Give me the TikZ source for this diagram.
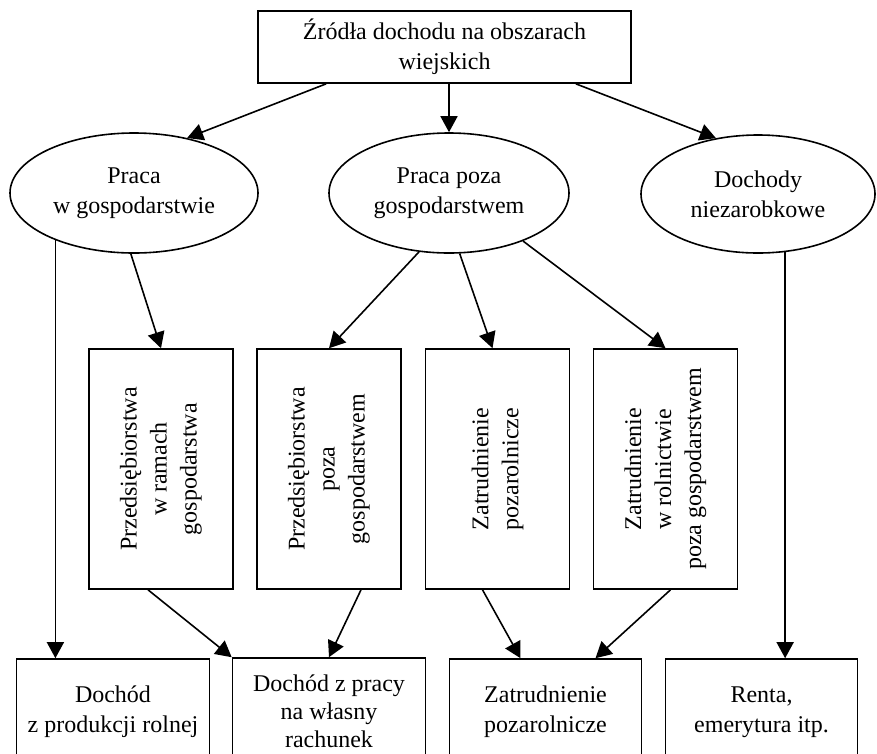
\documentclass[tikz,border=0pt]{standalone}
\usepackage{fontspec}
\setmainfont{Liberation Serif}
\usetikzlibrary{arrows.meta,shapes.geometric}

\tikzset{
  box/.style={draw, line width=1.6pt, inner sep=0pt, align=center},
  oval/.style={draw, ellipse, line width=1.6pt, inner sep=0pt, align=center},
  arr/.style={line width=1.6pt, -{Triangle[length=16pt,width=17pt]}},
}

\begin{document}
\begin{tikzpicture}[x=1pt, y=-1pt, font=\fontsize{24}{30}\selectfont]
		\useasboundingbox (0,0) rectangle (877,753);
		\clip (0,0) rectangle (877,753);
		% top
		\node [box, minimum width=373pt, minimum height=72pt] (top) at (444.5,47) {Źródła dochodu na obszarach\\wiejskich};
		% second row
		\node [oval, minimum width=248pt, minimum height=120pt] (lell) at (134,193) {Praca\\w gospodarstwie};
		\node [oval, minimum width=240pt, minimum height=120pt] (mell) at (449,193) {Praca poza\\gospodarstwem};
		\node [oval, minimum width=234pt, minimum height=118pt] (rell) at (758,194) {Dochody\\niezarobkowe};
		% third row
		\foreach \n/\x in {pb1/161, pb2/329, pb3/497.5, pb4/665.5}
			\node [box, minimum width=144pt, minimum height=240pt] (\n) at (\x,469) {};
		\node [rotate=90, align=center] at (pb1) {Przedsiębiorstwa\\w ramach\\gospodarstwa};
		\node [rotate=90, align=center] at (pb2) {Przedsiębiorstwa\\poza\\gospodarstwem};
		\node [rotate=90, align=center] at (pb3) {Zatrudnienie\\pozarolnicze};
		\node [rotate=90, align=center] at (pb4) {Zatrudnienie\\w rolnictwie\\poza gospodarstwem};
		% bottom row
		\node [box, minimum width=193pt, minimum height=106pt] (bw1) at (113,712) {Dochód\\z produkcji rolnej};
		\node [box, minimum width=193pt, minimum height=106pt, font=\fontsize{24}{28}\selectfont] (bw2) at (329,711) {Dochód z pracy\\na własny\\rachunek};
		\node [box, minimum width=192pt, minimum height=106pt] (bw3) at (545.5,712) {Zatrudnienie\\pozarolnicze};
		\node [box, minimum width=192pt, minimum height=106pt] (bw4) at (761.5,712) {Renta,\\emerytura itp.};
		% arrows
		\draw [arr] ([xshift=69pt]top.south west) -- (lell.46);
		\draw [arr] (top.south -| mell.north) -- (mell.north);
		\draw [arr] ([xshift=-56pt]top.south east) -- (rell.127);
		\draw [arr] (lell.211) -- (lell.211 |- bw1.north);
		\draw [arr] (lell.267) -- (pb1.north);
		\draw [arr] (mell.243) -- (pb2.north);
		\draw [arr] (mell.280) -- ([xshift=-5pt]pb3.north);
		\draw [arr] (mell.327) -- (pb4.north);
		\draw [arr] (rell.295) -- (rell.295 |- bw4.north);
		\draw [arr] ([xshift=-13pt]pb1.south) -- (bw2.north west);
		\draw [arr] ([xshift=32pt]pb2.south) -- (bw2.north);
		\draw [arr] ([xshift=-15pt]pb3.south) -- ([xshift=-25pt]bw3.north);
		\draw [arr] ([xshift=5pt]pb4.south) -- ([xshift=50pt]bw3.north);
	\end{tikzpicture}
\end{document}
